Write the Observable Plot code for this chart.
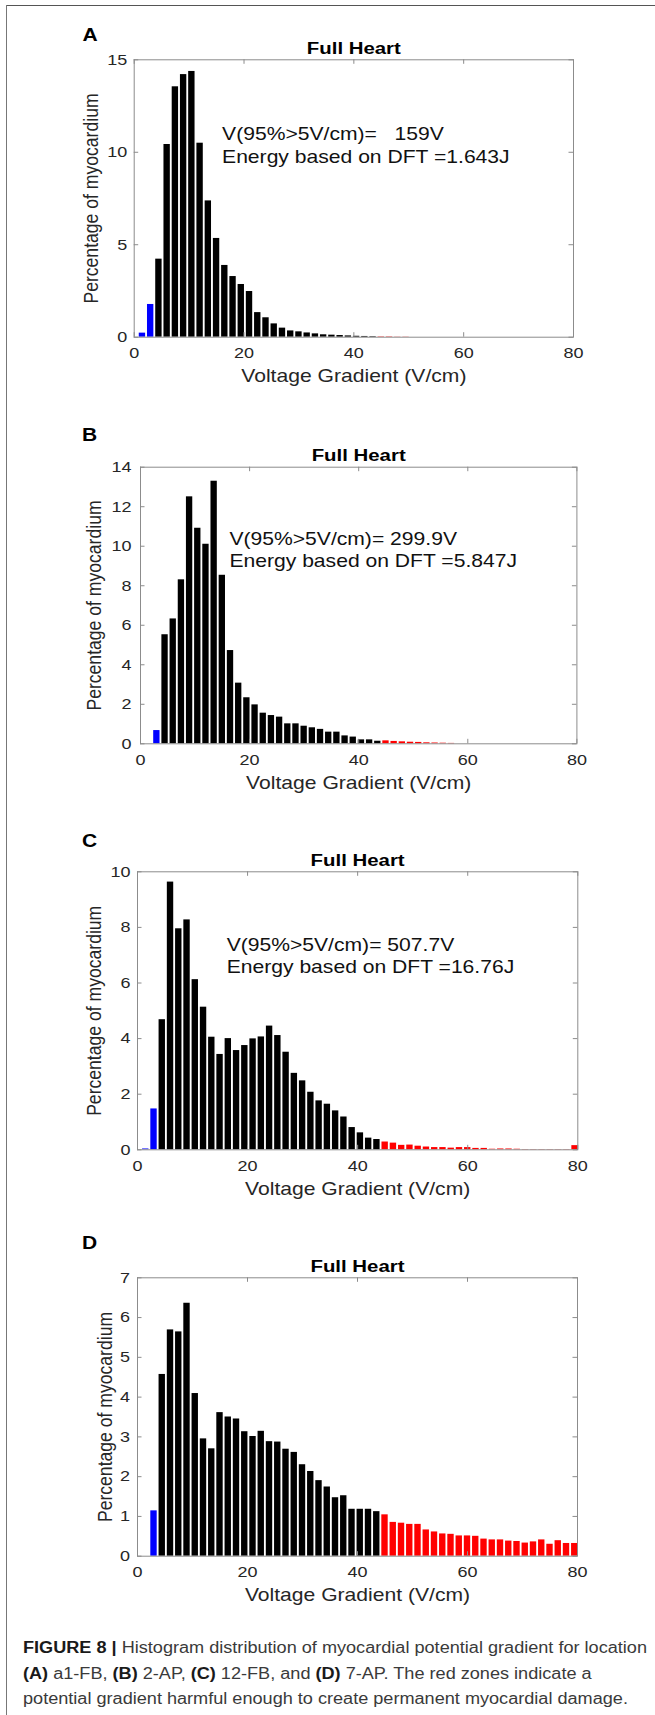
<!DOCTYPE html>
<html>
<head>
<meta charset="utf-8">
<script src="https://cdn.jsdelivr.net/npm/d3@7"></script>
<script src="https://cdn.jsdelivr.net/npm/@observablehq/plot@0.6"></script>
<style>
  html, body { margin: 0; padding: 0; background: #fff; }
  #page { position: relative; width: 655px; height: 1715px; overflow: hidden; background: #fff;
          font-family: "Liberation Sans", Arial, Helvetica, sans-serif; }
  .panel { position: absolute; left: 0; }
  #borderTop { position: absolute; left: 6px; top: 5px; width: 649px; height: 0; border-top: 1.5px solid #555; }
  #borderLeft { position: absolute; left: 6px; top: 5px; width: 0; height: 1710px; border-left: 1.5px solid #777; }
  #caption { position: absolute; left: 23px; top: 1635px; font-size: 16px; line-height: 25.5px; color: #3a3a3a;
             white-space: nowrap; display: inline-block; transform-origin: 0 0; }
  #caption b { color: #1a1a1a; }
</style>
</head>
<body>
<div id="page">
  <div id="borderTop"></div>
  <div id="borderLeft"></div>
  <div id="caption">
    <div><b>FIGURE 8 |</b> Histogram distribution of myocardial potential gradient for location</div>
    <div><b>(A)</b> a1-FB, <b>(B)</b> 2-AP, <b>(C)</b> 12-FB, and <b>(D)</b> 7-AP. The red zones indicate a</div>
    <div>potential gradient harmful enough to create permanent myocardial damage.</div>
  </div>
</div>
<script>
// ---------------- data ----------------
const binCenters = [1.5, 3, 4.5, 6, 7.5, 9, 10.5, 12, 13.5, 15, 16.5, 18, 19.5, 21, 22.5, 24, 25.5, 27, 28.5, 30,
  31.5, 33, 34.5, 36, 37.5, 39, 40.5, 42, 43.5, 45, 46.5, 48, 49.5, 51, 52.5, 54, 55.5, 57, 58.5, 60,
  61.5, 63, 64.5, 66, 67.5, 69, 70.5, 72, 73.5, 75, 76.5, 78, 79.5];

const pctA = [0.22, 1.77, 4.22, 10.42, 13.54, 14.2, 14.37, 10.49, 7.37, 5.34, 3.88, 3.28, 2.85, 2.47, 1.33, 1.05,
  0.72, 0.49, 0.34, 0.29, 0.23, 0.18, 0.13, 0.11, 0.09, 0.07, 0.05, 0.04, 0.03, 0.02, 0.02, 0.01, 0.01,
  0, 0, 0, 0, 0, 0, 0, 0, 0, 0, 0, 0, 0, 0, 0, 0, 0, 0, 0, 0];

const pctB = [0, 0.67, 5.52, 6.32, 8.30, 12.5, 10.91, 10.10, 13.29, 8.53, 4.72, 3.07, 2.33, 1.97, 1.55, 1.43,
  1.35, 1.01, 1.01, 0.89, 0.81, 0.73, 0.59, 0.59, 0.40, 0.34, 0.20, 0.20, 0.13, 0.15, 0.12, 0.10, 0.08,
  0.07, 0.05, 0.04, 0.03, 0.02, 0, 0, 0, 0, 0, 0, 0, 0, 0, 0, 0, 0, 0, 0, 0];

const pctC = [0.03, 1.47, 4.68, 9.63, 7.95, 8.27, 6.12, 5.13, 4.05, 3.43, 4.00, 3.57, 3.75, 3.99, 4.06, 4.45,
  4.11, 3.51, 2.75, 2.48, 2.07, 1.76, 1.64, 1.40, 1.18, 0.80, 0.61, 0.42, 0.37, 0.28, 0.24, 0.16, 0.17,
  0.13, 0.10, 0.08, 0.08, 0.06, 0.08, 0.08, 0.05, 0.05, 0.02, 0.03, 0.03, 0.02, 0.01, 0.01, 0.01, 0.01,
  0.01, 0.01, 0.15];

const pctD = [0, 1.14, 4.57, 5.69, 5.64, 6.36, 4.09, 2.95, 2.70, 3.61, 3.50, 3.45, 3.13, 3.01, 3.14, 2.88,
  2.87, 2.69, 2.61, 2.30, 2.13, 1.90, 1.74, 1.47, 1.52, 1.18, 1.18, 1.18, 1.12, 1.04, 0.85, 0.83, 0.80,
  0.80, 0.66, 0.61, 0.56, 0.55, 0.51, 0.51, 0.50, 0.43, 0.41, 0.41, 0.38, 0.37, 0.33, 0.36, 0.41, 0.30,
  0.39, 0.32, 0.32];

const xTicks = [0, 20, 40, 60, 80];
const ticksA = [0, 5, 10, 15];
const ticksB = [0, 2, 4, 6, 8, 10, 12, 14];
const ticksC = [0, 2, 4, 6, 8, 10];
const ticksD = [0, 1, 2, 3, 4, 5, 6, 7];

const annotA = ["V(95%>5V/cm)=   159V", "Energy based on DFT =1.643J"];
const annotB = ["V(95%>5V/cm)= 299.9V", "Energy based on DFT =5.847J"];
const annotC = ["V(95%>5V/cm)= 507.7V", "Energy based on DFT =16.76J"];

const panelLetters = ["A", "B", "C", "D"];
const panelTitle = "Full Heart";
const xLabel = "Voltage Gradient (V/cm)";
const yLabel = "Percentage of myocardium";

// zones: below the 5 V/cm threshold (blue), normal (black), harmful (red)
const lowZoneMax = 4;
const harmfulZoneMin = 44.5;

// ---------------- layout ----------------
const W = 655;
const FONT = '"Liberation Sans", Arial, Helvetica, sans-serif';
const STRETCH = 1.2;

const panels = [
  {letter: panelLetters[0], vals: pctA, yMax: 15, yTicks: ticksA, annot: annotA, annotAt: [16.0, 9.43],
   top: 0, height: 392, frame: {l: 133.7, r: 573, t: 59.3, b: 336.7},
   letterDx: -51.7, letterDy: -19.3, yLabelDx: -43, yPad: 7},
  {letter: panelLetters[1], vals: pctB, yMax: 14, yTicks: ticksB, annot: annotB, annotAt: [16.3, 8.94],
   top: 395, height: 400, frame: {l: 140, r: 576.4, t: 466.7, b: 743.3},
   letterDx: -58.5, letterDy: -26.7, yLabelDx: -46, yPad: 9},
  {letter: panelLetters[2], vals: pctC, yMax: 10, yTicks: ticksC, annot: annotC, annotAt: [16.2, 6.35],
   top: 800, height: 405, frame: {l: 137, r: 577.3, t: 871.3, b: 1149.3},
   letterDx: -55.5, letterDy: -25.3, yLabelDx: -43.5, yPad: 7},
  {letter: panelLetters[3], vals: pctD, yMax: 7, yTicks: ticksD, annot: null, annotAt: null,
   top: 1207, height: 405, frame: {l: 137, r: 577, t: 1277.3, b: 1555.7},
   letterDx: -55.5, letterDy: -29, yLabelDx: -32.6, yPad: 7.5}
];

function zoneColor(x) {
  if (x < lowZoneMax) return "#0000ff";
  if (x >= harmfulZoneMin) return "#ff0000";
  return "#000000";
}

function stretchTexts(svg, s) {
  svg.querySelectorAll("text").forEach(t => {
    const b = t.getBBox();
    const tr = t.getAttribute("transform") || "";
    if (/rotate/.test(tr)) {
      const cy = b.y + b.height / 2;
      t.setAttribute("transform", `${tr} translate(0,${cy}) scale(1,${s}) translate(0,${-cy})`);
    } else {
      const anchor = getComputedStyle(t).textAnchor;
      const ax = anchor === "middle" ? b.x + b.width / 2 : anchor === "end" ? b.x + b.width : b.x;
      t.setAttribute("transform", `${tr} translate(${ax},0) scale(${s},1) translate(${-ax},0)`);
    }
  });
}

const page = document.getElementById("page");
const TICK = 4.5;
const AXIS = "#8c8c8c";

for (const p of panels) {
  const data = binCenters.map((x, i) => ({x, v: p.vals[i]}));
  const f = p.frame;
  const plotW = f.r - f.l;
  const plotH = f.b - f.t;
  const marks = [
    Plot.rectY(data, {x1: d => d.x - 0.58, x2: d => d.x + 0.58, y: "v", fill: d => zoneColor(d.x)}),
    Plot.frame({stroke: AXIS, strokeWidth: 1}),
    // inward ticks (MATLAB style) on all four sides
    Plot.ruleX(xTicks, {x: d => d, stroke: AXIS, insetTop: plotH - TICK}),
    Plot.ruleX(xTicks, {x: d => d, stroke: AXIS, insetBottom: plotH - TICK}),
    Plot.ruleY(p.yTicks, {y: d => d, stroke: AXIS, insetRight: plotW - TICK}),
    Plot.ruleY(p.yTicks, {y: d => d, stroke: AXIS, insetLeft: plotW - TICK}),
    Plot.axisX({ticks: xTicks, tickSize: 0, tickPadding: 10.5, label: null, tickFormat: d => String(d),
      fill: "#262626", fontSize: 15}),
    Plot.axisY({ticks: p.yTicks, tickSize: 0, tickPadding: p.yPad, label: null, tickFormat: d => String(d),
      fill: "#262626", fontSize: 15}),
    Plot.text([panelTitle], {frameAnchor: "top", dy: -6, lineAnchor: "bottom", fontWeight: "bold", fontSize: 17, fill: "#000"}),
    Plot.text([p.letter], {frameAnchor: "top-left", dx: p.letterDx, dy: p.letterDy, textAnchor: "start",
      lineAnchor: "bottom", fontWeight: "bold", fontSize: 17.5, fill: "#000"}),
    Plot.text([xLabel], {frameAnchor: "bottom", dy: 45, lineAnchor: "bottom", fontSize: 17.6, fill: "#262626"}),
    Plot.text([yLabel], {frameAnchor: "left", dx: p.yLabelDx, rotate: -90, textAnchor: "middle",
      lineAnchor: "middle", fontSize: 17.6, fill: "#262626"})
  ];
  if (p.annot) {
    marks.push(Plot.text([p.annot.join("\n")], {x: p.annotAt[0], y: p.annotAt[1], textAnchor: "start",
      lineAnchor: "bottom", lineHeight: 1.27, fontSize: 17.6, fill: "#111"}));
  }
  const svg = Plot.plot({
    width: W,
    height: p.height,
    marginLeft: f.l,
    marginRight: W - f.r,
    marginTop: f.t - p.top,
    marginBottom: p.top + p.height - f.b,
    x: {domain: [0, 80]},
    y: {domain: [0, p.yMax]},
    color: {type: "identity"},
    style: {fontFamily: FONT, fontSize: "15px", color: "#262626", background: "transparent", overflow: "visible"},
    marks
  });
  const holder = document.createElement("div");
  holder.className = "panel";
  holder.style.top = p.top + "px";
  holder.appendChild(svg);
  page.appendChild(holder);
  stretchTexts(svg, STRETCH);
}

// fit caption first line to its measured width in the reference
const cap = document.getElementById("caption");
const capW = cap.getBoundingClientRect().width;
cap.style.transform = `scaleX(${624 / capW})`;
</script>
</body>
</html>
